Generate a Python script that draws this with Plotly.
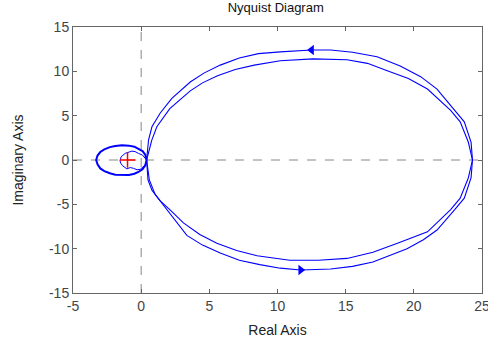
import plotly.graph_objects as go

# Upper outer branch (with arrow), from right end to the origin region
top_outer_x = [24.3, 24.2, 23.7, 23.0, 21.7, 20.5, 19.0, 17.3, 15.5, 13.9, 12.5, 10.2, 8.6, 7.2, 5.8, 4.6, 3.6, 2.25, 1.4, 0.79, 0.54, 0.4]
top_outer_y = [0.0, 2.0, 4.3, 5.6, 8.0, 9.4, 10.6, 11.65, 12.15, 12.4, 12.4, 12.2, 12.0, 11.5, 10.7, 9.8, 8.8, 6.95, 5.3, 3.75, 2.25, 0.0]
# Upper inner branch
top_inner_x = [24.3, 24.0, 23.4, 22.7, 21.0, 19.6, 18.0, 16.6, 15.1, 12.6, 10.2, 8.3, 6.9, 5.6, 4.5, 3.6, 2.1, 1.15, 0.78, 0.55, 0.4]
top_inner_y = [0.0, 2.0, 4.3, 5.6, 8.0, 9.2, 10.1, 10.9, 11.3, 11.4, 11.2, 10.7, 10.2, 9.5, 8.7, 7.8, 5.8, 3.75, 2.25, 1.0, 0.0]
# Lower outer branch (with arrow)
bot_outer_x = [0.4, 0.6, 1.03, 1.9, 2.6, 3.35, 4.5, 5.8, 7.2, 8.7, 10.2, 11.7, 13.9, 15.5, 17.0, 19.5, 20.7, 21.7, 23.0, 23.7, 24.2, 24.3]
bot_outer_y = [0.0, -2.25, -3.9, -5.6, -7.1, -8.5, -9.6, -10.5, -11.3, -11.8, -12.2, -12.4, -12.3, -12.0, -11.5, -10.0, -9.0, -7.9, -5.6, -4.3, -2.0, 0.0]
# Lower inner branch
bot_inner_x = [0.4, 0.5, 0.79, 1.4, 2.1, 3.1, 4.3, 5.55, 7.0, 8.5, 10.9, 13.0, 15.1, 17.0, 18.8, 21.0, 22.7, 23.4, 24.0, 24.3]
bot_inner_y = [0.0, -2.25, -3.4, -4.6, -5.6, -7.1, -8.4, -9.4, -10.2, -10.8, -11.3, -11.3, -11.1, -10.4, -9.4, -8.1, -5.6, -4.3, -2.0, 0.0]
# Small loop around the critical point
loop_x = [0.4, 0.3, 0.1, -0.2, -0.5, -0.9, -1.4, -1.9, -2.3, -2.7, -3.0, -3.2, -3.3, -3.2, -3.0, -2.7, -2.3, -1.9, -1.4, -0.9, -0.5, -0.2, 0.1, 0.3, 0.4]
loop_y = [0.0, 0.6, 1.0, 1.3, 1.5, 1.62, 1.65, 1.58, 1.45, 1.2, 0.9, 0.5, 0.0, -0.5, -0.95, -1.25, -1.5, -1.65, -1.7, -1.68, -1.55, -1.35, -1.05, -0.6, 0.0]
# Inner wiggly curve
wig_x = [0.4, 0.25, 0.1, -0.2, -0.45, -0.68, -0.9, -1.17, -1.47, -1.55, -1.5, -1.37, -1.05, -0.8, -0.56, -0.3, -0.07, 0.15, 0.3, 0.4]
wig_y = [0.0, 0.35, 0.55, 0.75, 0.95, 1.0, 0.85, 0.75, 0.37, -0.1, -0.35, -0.64, -1.0, -0.85, -0.94, -1.1, -1.05, -0.8, -0.56, 0.0]
# Arrow positions
arrow_top = (12.5, 12.4)
arrow_bot = (11.7, -12.4)
crit = (-1, 0)

x_ticks = [-5, 0, 5, 10, 15, 20, 25]
y_ticks = [-15, -10, -5, 0, 5, 10, 15]

blue = "#0000FF"
FONT = "Liberation Sans, Arial"
fig = go.Figure()
for xs, ys, w in [(top_outer_x, top_outer_y, 1.1), (top_inner_x, top_inner_y, 1.1),
                  (bot_outer_x, bot_outer_y, 1.1), (bot_inner_x, bot_inner_y, 1.1),
                  (loop_x, loop_y, 2), (wig_x, wig_y, 1)]:
    fig.add_trace(go.Scatter(x=xs, y=ys, mode="lines", line=dict(color=blue, width=w),
                             hoverinfo="skip", showlegend=False))

fig.add_trace(go.Scatter(x=[arrow_top[0]], y=[arrow_top[1]], mode="markers",
                         marker=dict(symbol="triangle-left", size=9, color=blue), showlegend=False))
fig.add_trace(go.Scatter(x=[arrow_bot[0]], y=[arrow_bot[1]], mode="markers",
                         marker=dict(symbol="triangle-right", size=9, color=blue), showlegend=False))
fig.add_trace(go.Scatter(x=[crit[0]], y=[crit[1]], mode="markers",
                         marker=dict(symbol="cross-thin", size=11, line=dict(color="red", width=1.5)),
                         showlegend=False))

fig.add_shape(type="line", x0=0, x1=0, y0=-15, y1=15, xref="x", yref="y",
              line=dict(color="#888888", width=1, dash="dash"), layer="below")
fig.add_shape(type="line", x0=-5, x1=25, y0=0, y1=0, xref="x", yref="y",
              line=dict(color="#888888", width=1, dash="dash"), layer="below")

axis_common = dict(showgrid=False, zeroline=False, showline=True, mirror="ticks",
                   linecolor="#666666", linewidth=1, ticks="inside", ticklen=4,
                   tickcolor="#666666", automargin=False, ticklabeloverflow="allow",
                   tickfont=dict(family=FONT, size=14, color="#444444"))
fig.update_xaxes(range=[-5, 25], tickvals=x_ticks, ticktext=[str(v) for v in x_ticks],
                 title=dict(text="Real Axis", font=dict(family=FONT, size=14, color="#222222"), standoff=12),
                 **axis_common)
fig.update_yaxes(range=[-15, 15], tickvals=y_ticks, ticktext=[str(v) for v in y_ticks],
                 title=dict(text="Imaginary Axis", font=dict(family=FONT, size=14, color="#222222"), standoff=22),
                 **axis_common)

fig.update_layout(
    width=488, height=343,
    margin=dict(l=73, r=6, t=27, b=50, autoexpand=False),
    plot_bgcolor="white", paper_bgcolor="white",
    title=dict(text="Nyquist Diagram", x=0.565, xanchor="center", y=0.992, yanchor="top",
               font=dict(family=FONT, size=13, color="#111111"), automargin=False),
    showlegend=False,
)
fig.write_html("out.html", config={"displayModeBar": False},
               post_script="document.body.style.margin='0';")
